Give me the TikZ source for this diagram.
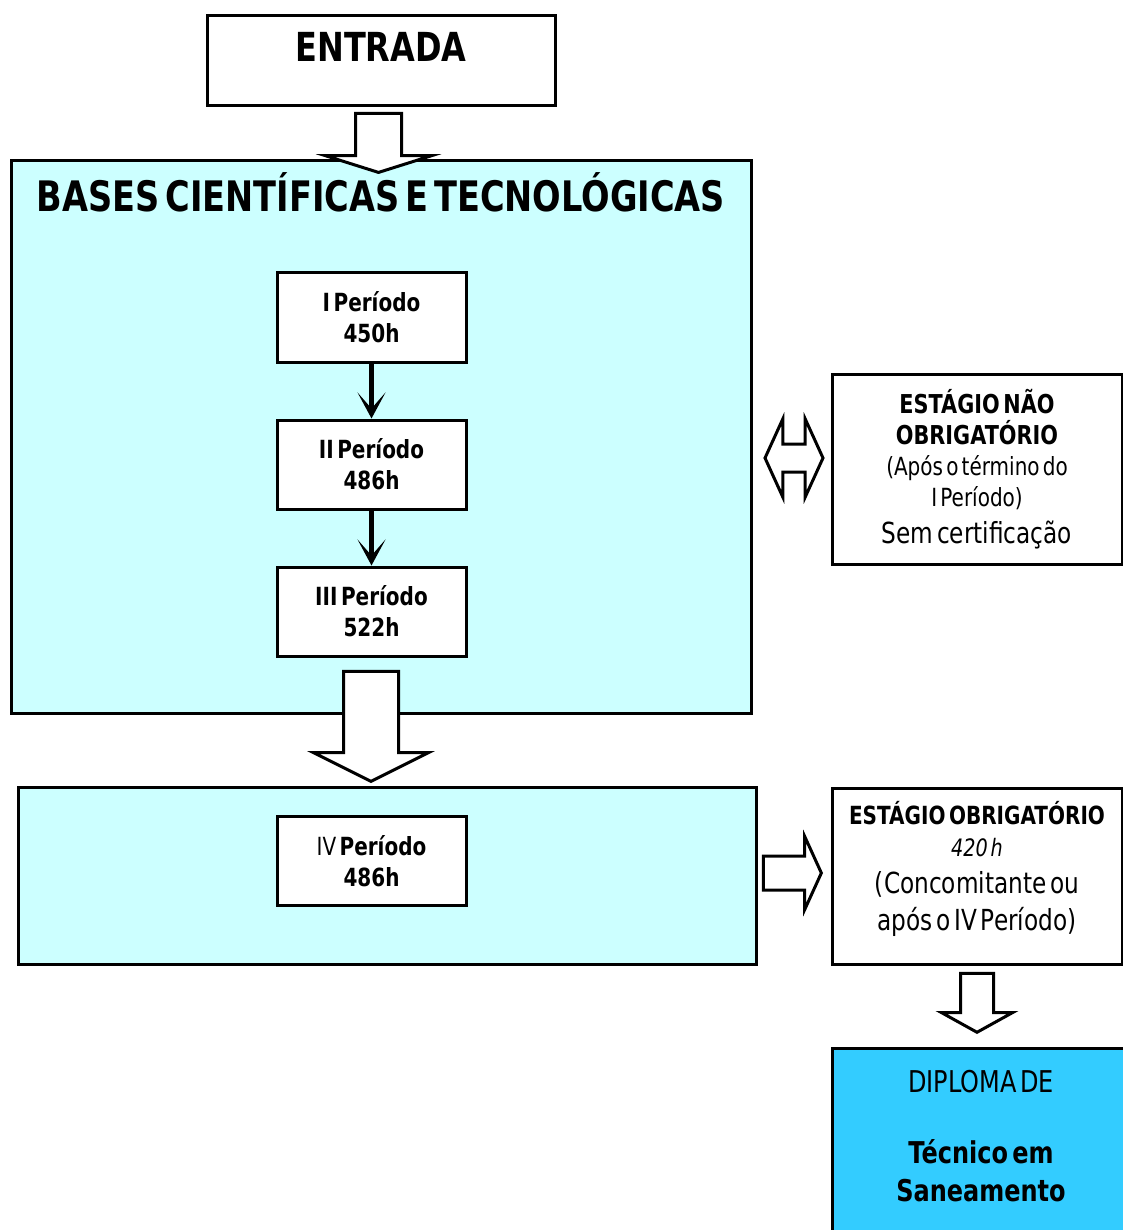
\documentclass[tikz,border=0pt]{standalone}
\usepackage{fontspec}
\setmainfont{DejaVu Sans}[FakeStretch=0.8, WordSpace=0.5]
\usepackage{tikz}
\usetikzlibrary{calc, positioning, arrows.meta, shapes.arrows}
\definecolor{paleCyan}{HTML}{CCFFFF}
\definecolor{skyCyan}{HTML}{33CCFF}
\tikzset{
  box/.style      = {draw=black, line width=3pt, fill=white, align=center, inner sep=0pt},
  zone/.style     = {draw=black, line width=3pt, fill=paleCyan},
  per/.style      = {box, minimum width=189pt, minimum height=89pt,
                     font=\fontsize{25}{31}\selectfont\bfseries},
  side/.style     = {box, minimum width=290pt},
  ttl/.style      = {inner sep=0pt, font=\bfseries},
  bigarrow/.style = {single arrow, draw=black, line width=3pt, fill=white, inner xsep=0pt},
  dblarrow/.style = {double arrow, draw=black, line width=3pt, fill=white, inner xsep=0pt},
  fl/.style       = {-{Stealth[length=26pt, width=28pt, inset=16pt]}, draw=black, line width=5pt}
}

\begin{document}
\begin{tikzpicture}[x=1pt, y=-1pt, node distance=55pt]
  \useasboundingbox (0,0) rectangle (1123,1230);

  % entry
  \node[box, minimum width=348pt, minimum height=90pt] (entrada) at (381,61) {};
  \node[ttl, font=\fontsize{40}{42}\selectfont\bfseries, text height=29pt,
        below=18pt of entrada.north] (entradaT) {ENTRADA};

  % first block
  \node[zone, minimum width=740pt, minimum height=552pt] (bases) at (381,437) {};
  \node[ttl, font=\fontsize{42}{44}\selectfont\bfseries, text height=30pt,
        below=22pt of bases.north] (basesT) {BASES CIENTÍFICAS E TECNOLÓGICAS};

  \node[per] (p1) at (371.5,317.5) {I Período\\450h};
  \node[per, below=of p1] (p2) {II Período\\486h};
  \node[per, below=of p2] (p3) {III Período\\522h};
  \draw[fl] (p1) -- (p2);
  \draw[fl] (p2) -- (p3);

  % second block
  \node[zone, minimum width=738pt, minimum height=177pt] (tecn) at (387,875.5) {};
  \node[per] (p4) at (371.5,861) {{\mdseries IV} Período\\486h};

  % side boxes
  \node[side, minimum height=190pt, font=\fontsize{26}{31}\selectfont] (naoobr) at (977,469)
    {\bfseries ESTÁGIO NÃO\\\bfseries OBRIGATÓRIO\\
     \fontsize{25}{31}\selectfont (Após o término do\\
     \fontsize{25}{31}\selectfont I Período)\\[6pt]
     \fontsize{29}{31}\selectfont Sem certificação};
  \node[side, minimum height=176pt] (obrig) at (977,876) {};
  \node[align=center, inner sep=0pt, font=\fontsize{29}{32}\selectfont] (obrigT) at (977,869)
    {\fontsize{25}{32}\selectfont\bfseries ESTÁGIO OBRIGATÓRIO\\
     \fontsize{24}{32}\selectfont\itshape 420 h\\[5pt]
     (Concomitante ou\\[5pt]após o IV Período)};
  \node[box, fill=skyCyan, minimum width=298pt, minimum height=184pt,
        font=\fontsize{30}{38}\selectfont] (diploma) at (981,1140) {};
  \node[align=center, inner sep=0pt, font=\fontsize{30}{38}\selectfont] (diplomaT) at (981,1136)
    {DIPLOMA DE\\[33pt]
     \bfseries Técnico em\\\bfseries Saneamento};

  % block arrows
  \node[bigarrow, rotate=-90, inner ysep=21.5pt, minimum height=59pt,
        single arrow head extend=30pt, single arrow tip angle=145, anchor=tip] (a1) at (378.5,174) {};
  \node[bigarrow, rotate=-90, inner ysep=26pt, minimum height=110pt,
        single arrow head extend=30pt, single arrow tip angle=127, anchor=tip] (a2) at (371,783) {};
  \node[dblarrow, inner ysep=12.5pt, minimum height=58pt,
        double arrow head extend=25pt, double arrow tip angle=131] (a3) at (794,458) {};
  \node[bigarrow, inner ysep=15.5pt, minimum height=58pt,
        single arrow head extend=19.5pt, single arrow tip angle=131, anchor=tip] (a4) at (823,873) {};
  \node[bigarrow, rotate=-90, inner ysep=15pt, minimum height=59pt,
        single arrow head extend=19pt, single arrow tip angle=122, anchor=tip] (a5) at (977,1034) {};
\end{tikzpicture}
\end{document}
